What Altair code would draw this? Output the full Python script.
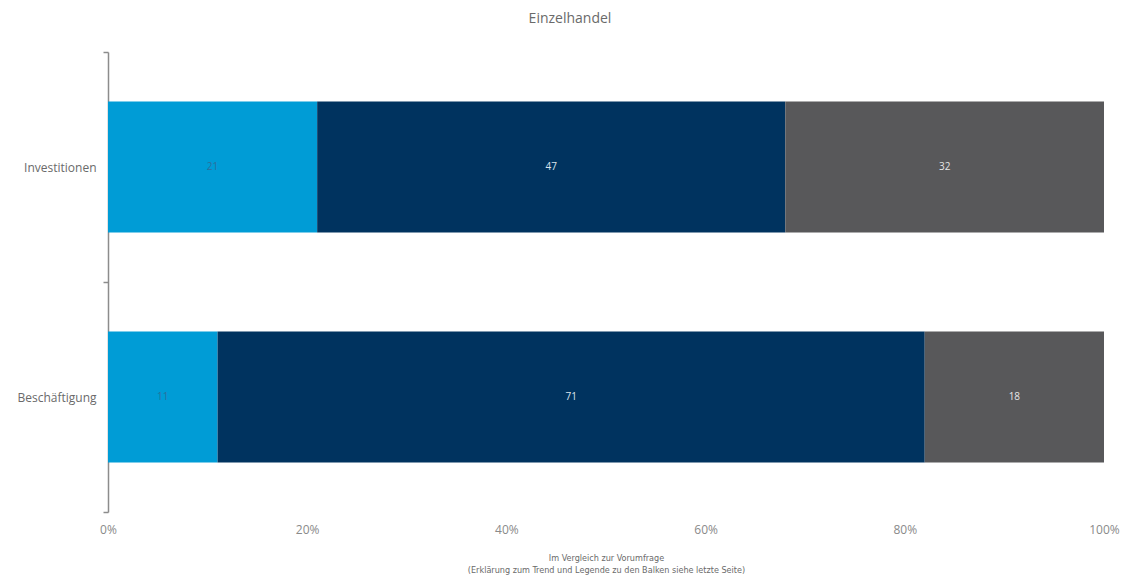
import altair as alt
import pandas as pd

categories = ["Investitionen", "Beschäftigung"]
segments = ["gestiegen", "gleich", "gesunken"]
investitionen = [21, 47, 32]
beschaeftigung = [11, 71, 18]
x_ticks = [0, 20, 40, 60, 80, 100]

colors = ["#009cd6", "#00335f", "#58585a"]
label_colors = ["#2d6e9c", "#dde4ec", "#e6e6e6"]

rows = []
for cat, vals in zip(categories, [investitionen, beschaeftigung]):
    start = 0
    for i, (seg, v) in enumerate(zip(segments, vals)):
        rows.append({"Kategorie": cat, "Segment": seg, "order": i, "value": v,
                     "start": start, "end": start + v, "mid": start + v / 2,
                     "tcolor": label_colors[i]})
        start += v
df = pd.DataFrame(rows)

FONT = "Open Sans"
NARROW = "DejaVu Sans Condensed, Open Sans"

y_enc = alt.Y("Kategorie:N", sort=categories, title=None,
              scale=alt.Scale(paddingInner=0, paddingOuter=0),
              axis=alt.Axis(domain=True, domainColor="#8c8c8c", domainWidth=1.5,
                            ticks=True, tickBand="extent", tickSize=5,
                            tickColor="#8c8c8c", tickWidth=1.5,
                            labelPadding=7, labelFontSize=12, labelColor="#6a6a6a",
                            labelFont=FONT))

bars = alt.Chart(df).mark_bar(height={"band": 0.57}).encode(
    x=alt.X("start:Q", scale=alt.Scale(domain=[0, 100], nice=False),
            title=["Im Vergleich zur Vorumfrage",
                   "(Erklärung zum Trend und Legende zu den Balken siehe letzte Seite)"],
            axis=alt.Axis(values=x_ticks, labelExpr="datum.value + '%'",
                          domain=False, ticks=False, grid=False, labelFlush=False,
                          labelPadding=12, labelFontSize=12, labelColor="#8a8a8a",
                          labelFont=FONT, titleFont=NARROW,
                          titleFontSize=9, titleFontWeight="normal",
                          titleLineHeight=12,
                          titleColor="#6a6a6a", titlePadding=18)),
    x2="end:Q",
    y=y_enc,
    color=alt.Color("Segment:N", sort=segments,
                    scale=alt.Scale(domain=segments, range=colors), legend=None),
)

labels = alt.Chart(df).mark_text(fontSize=10, font=FONT).encode(
    x="mid:Q",
    y=alt.Y("Kategorie:N", sort=categories),
    text="value:Q",
    color=alt.Color("tcolor:N", scale=None),
)

chart = (bars + labels).properties(
    width=996, height=460,
    autosize=alt.AutoSizeParams(type="none"),
    padding={"left": 108, "top": 52, "right": 24, "bottom": 74},
    title=alt.TitleParams("Einzelhandel", fontSize=14, font=FONT,
                          fontWeight="normal", color="#6a6a6a",
                          offset=20, dx=-36),
).configure_view(stroke=None)

chart.save("out.html", embed_options={"renderer": "svg", "actions": False})
